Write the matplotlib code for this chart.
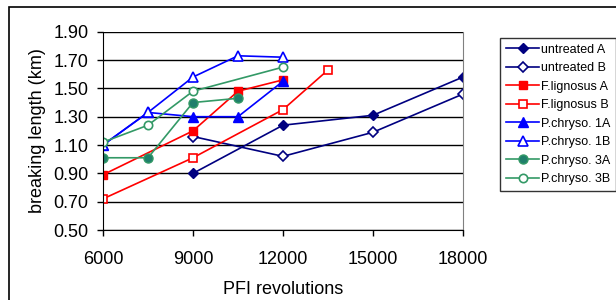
import matplotlib
matplotlib.use("Agg")
import matplotlib.pyplot as plt
from matplotlib.patches import Rectangle

plt.rcParams['font.family'] = ['Liberation Sans', 'DejaVu Sans']

# data
untreated_a_x = [9000, 12000, 15000, 18000]
untreated_a_y = [0.90, 1.24, 1.31, 1.58]
untreated_b_x = [9000, 12000, 15000, 18000]
untreated_b_y = [1.16, 1.02, 1.19, 1.46]
flig_a_x = [6000, 9000, 10500, 12000]
flig_a_y = [0.89, 1.20, 1.48, 1.56]
flig_b_x = [6000, 9000, 12000, 13500]
flig_b_y = [0.72, 1.01, 1.35, 1.63]
pc1a_x = [6000, 7500, 9000, 10500, 12000]
pc1a_y = [1.10, 1.33, 1.30, 1.30, 1.55]
pc1b_x = [6000, 7500, 9000, 10500, 12000]
pc1b_y = [1.10, 1.33, 1.58, 1.73, 1.72]
pc3a_x = [6000, 7500, 9000, 10500]
pc3a_y = [1.01, 1.01, 1.40, 1.43]
pc3b_x = [6000, 7500, 9000, 12000]
pc3b_y = [1.12, 1.24, 1.48, 1.65]

x_ticks = [6000, 9000, 12000, 15000, 18000]
y_ticks = [0.50, 0.70, 0.90, 1.10, 1.30, 1.50, 1.70, 1.90]

navy = '#000080'
red = '#ff0000'
blue = '#0000ff'
green = '#339966'
teal = '#1f7f6b'

fig = plt.figure(figsize=(6.16, 3.0), dpi=100)
ax = fig.add_axes([0.1672, 0.2333, 0.5844, 0.661])

# outer chart border (cut off at right and bottom)
fig.patches.append(Rectangle((9/616, -0.1), 1.2, 1 - 7/300 + 0.1, transform=fig.transFigure,
                             fill=False, edgecolor='black', lw=1.2))

ms = 6
ax.plot(untreated_a_x, untreated_a_y, color=navy, lw=1.2, marker='D', ms=5,
        mfc=navy, mec=navy, label='untreated A')
ax.plot(untreated_b_x, untreated_b_y, color=navy, lw=1.2, marker='D', ms=5,
        mfc='white', mec=navy, mew=1.2, label='untreated B')
ax.plot(flig_a_x, flig_a_y, color=red, lw=1.2, marker='s', ms=ms,
        mfc=red, mec=red, label='F.lignosus A')
ax.plot(flig_b_x, flig_b_y, color=red, lw=1.2, marker='s', ms=ms,
        mfc='white', mec=red, mew=1.2, label='F.lignosus B')
ax.plot(pc1a_x, pc1a_y, color=blue, lw=1.2, marker='^', ms=ms + 1,
        mfc=blue, mec=blue, label='P.chryso. 1A')
ax.plot(pc1b_x, pc1b_y, color=blue, lw=1.2, marker='^', ms=ms + 1,
        mfc='white', mec=blue, mew=1.2, label='P.chryso. 1B')
ax.plot(pc3a_x, pc3a_y, color=green, lw=1.2, marker='o', ms=ms + 0.5,
        mfc=teal, mec=green, label='P.chryso. 3A')
ax.plot(pc3b_x, pc3b_y, color=green, lw=1.2, marker='o', ms=ms,
        mfc='white', mec=green, mew=1.2, label='P.chryso. 3B')

ax.set_xlim(6000, 18000)
ax.set_ylim(0.5, 1.9)
ax.set_xticks(x_ticks)
ax.set_yticks(y_ticks)
ax.set_yticklabels(['%.2f' % v for v in y_ticks])
ax.tick_params(axis='both', labelsize=13, length=4.5, width=1, direction='out', color='black')
ax.tick_params(axis='x', pad=10.5)
ax.tick_params(axis='y', pad=6)
ax.yaxis.grid(True, color='black', lw=1)
ax.set_axisbelow(True)

ax.spines['top'].set_visible(False)
ax.spines['right'].set_color('#808080')
ax.spines['left'].set_color('black')
ax.spines['bottom'].set_color('black')

ax.set_xlabel('PFI revolutions', fontsize=13, labelpad=9.5)
ax.set_ylabel('breaking length (km)', fontsize=13, labelpad=5.5)

leg = ax.legend(loc='upper left', bbox_to_anchor=(500/616, 1 - 38/300), bbox_transform=fig.transFigure,
                fontsize=9, frameon=True, fancybox=False, edgecolor='black',
                handlelength=2.7, handletextpad=0.15, labelspacing=0.52,
                borderpad=0.45, borderaxespad=0)
leg.get_frame().set_linewidth(1)

fig.savefig('out.png', dpi=100)
